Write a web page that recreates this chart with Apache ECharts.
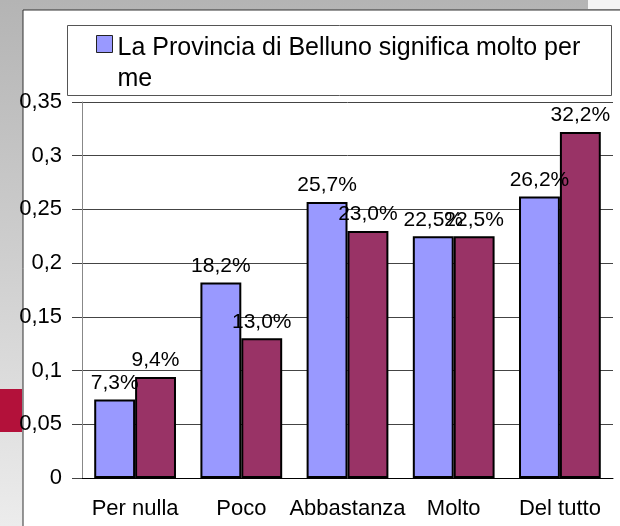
<!DOCTYPE html>
<html>
<head>
<meta charset="utf-8">
<script src="https://cdn.jsdelivr.net/npm/echarts@6/dist/echarts.min.js"></script>
<style>
  html, body { margin: 0; padding: 0; }
  #chart { width: 620px; height: 526px; }
</style>
</head>
<body>
<div id="chart"></div>
<script>
var categories = ['Per nulla', 'Poco', 'Abbastanza', 'Molto', 'Del tutto'];
var seriesName = 'La Provincia di Belluno significa molto per me';
var valuesBlue = [0.073, 0.182, 0.257, 0.225, 0.262];
var valuesRed = [0.094, 0.130, 0.230, 0.225, 0.322];
var yTicks = { min: 0, max: 0.35, interval: 0.05 };

var font = 'Liberation Sans, Arial, sans-serif';

function commaNum(v) {
	return String(parseFloat(v.toFixed(2))).replace('.', ',');
}
function pctLabel(p) {
	return (p.value * 100).toFixed(1).replace('.', ',') + '%';
}

var myChart = echarts.init(document.getElementById('chart'));

var option = {
	backgroundColor: {
		type: 'linear', x: 0, y: 0, x2: 0, y2: 1,
		colorStops: [{ offset: 0, color: '#b4b4b4' }, { offset: 0.5, color: '#cfcfcf' }, { offset: 1, color: '#ececec' }]
	},
	animation: false,
	graphic: [
		// white panel
		{ type: 'rect', z: -10, shape: { x: 23, y: 10, width: 600, height: 520 },
			style: { fill: '#ffffff', stroke: '#333333', lineWidth: 1 } },
		{ type: 'rect', z: -10, shape: { x: 588, y: 0, width: 32, height: 9 },
			style: { fill: '#f4f4f4' } },
		// piece of red logo behind
		{ type: 'rect', z: -10, shape: { x: 0, y: 389, width: 22, height: 43 },
			style: { fill: '#b3113a' } },
		// legend frame
		{ type: 'rect', z: -5, shape: { x: 67.5, y: 25.5, width: 544, height: 70 },
			style: { fill: '#ffffff', stroke: '#555555', lineWidth: 1 } }
	],
	legend: {
		data: [seriesName],
		left: 96,
		top: 33,
		padding: 0,
		itemWidth: 16,
		itemHeight: 57,
		// square at the top of the item, so it lines up with the first text line
		icon: 'path://M0,0L16,0L16,17L0,17Z M0,57L0,57',
		itemStyle: { borderColor: '#222', borderWidth: 1 },
		formatter: function () {
			return 'La Provincia di Belluno significa molto per\nme';
		},
		textStyle: {
			fontFamily: font,
			fontSize: 25,
			color: '#000',
			lineHeight: 31
		}
	},
	grid: { left: 82, right: 7, top: 102, bottom: 48 },
	xAxis: {
		type: 'category',
		data: categories,
		axisLine: { lineStyle: { color: '#000', width: 1 } },
		axisTick: { length: 10, lineStyle: { color: '#888' } },
		axisLabel: { interval: 0, fontFamily: font, fontSize: 22, color: '#000', margin: 20 }
	},
	yAxis: {
		type: 'value',
		min: yTicks.min,
		max: yTicks.max,
		interval: yTicks.interval,
		axisLine: { show: true, lineStyle: { color: '#888', width: 1 } },
		axisTick: { show: true, length: 10, lineStyle: { color: '#444' } },
		splitLine: { lineStyle: { color: '#444', width: 1 } },
		axisLabel: {
			fontFamily: font, fontSize: 22, color: '#000', margin: 20,
			formatter: commaNum
		}
	},
	series: [
		{
			name: seriesName,
			type: 'bar',
			data: valuesBlue,
			barGap: '0%',
			barCategoryGap: '23%',
			itemStyle: { color: '#9999ff', borderColor: '#000', borderWidth: 2 },
			label: { show: true, position: 'top', distance: 6, fontFamily: font, fontSize: 21, color: '#000', formatter: pctLabel }
		},
		{
			name: 'serie2',
			type: 'bar',
			data: valuesRed,
			barGap: '0%',
			barCategoryGap: '23%',
			itemStyle: { color: '#993366', borderColor: '#000', borderWidth: 2 },
			label: { show: true, position: 'top', distance: 6, fontFamily: font, fontSize: 21, color: '#000', formatter: pctLabel }
		}
	]
};

myChart.setOption(option);
</script>
</body>
</html>
